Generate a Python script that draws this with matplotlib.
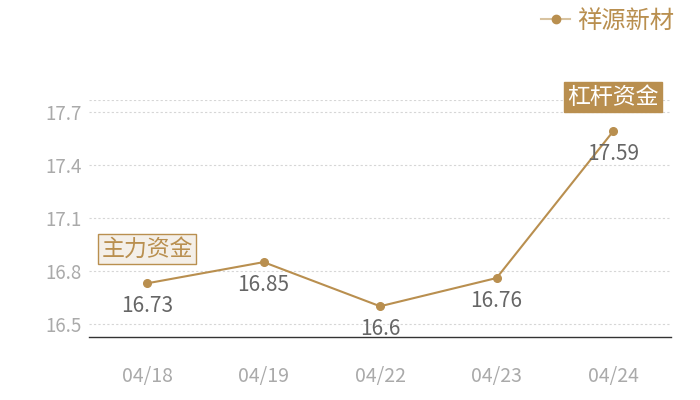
"""Line chart of daily values for 祥源新材 with two callout labels."""

import matplotlib

matplotlib.use("Agg")

import matplotlib.pyplot as plt
from matplotlib.lines import Line2D

plt.rcParams["font.family"] = ["Noto Sans CJK SC", "DejaVu Sans"]

dates = ["04/18", "04/19", "04/22", "04/23", "04/24"]
values = [16.73, 16.85, 16.6, 16.76, 17.59]
value_labels = ["16.73", "16.85", "16.6", "16.76", "17.59"]
series_name = "祥源新材"
y_ticks = [16.5, 16.8, 17.1, 17.4, 17.7]
callouts = [(0, "主力资金", "light"), (4, "杠杆资金", "dark")]

GOLD = "#b98f4f"
TICK_GRAY = "#aaaaaa"
LABEL_GRAY = "#666666"


def main() -> None:
    fig = plt.figure(figsize=(7, 4), dpi=100)
    ax = fig.add_axes([0.127, 0.1575, 0.832, 0.5925])

    x = list(range(len(dates)))
    ax.plot(x, values, color=GOLD, lw=1.5, marker="o", ms=5.5, zorder=3)

    for xi, v, lab in zip(x, values, value_labels, strict=True):
        ax.annotate(lab, (xi, v), xytext=(0, -16.5), textcoords="offset points",
                    ha="center", va="center", fontsize=15, color=LABEL_GRAY)

    for idx, text, style in callouts:
        if style == "dark":
            box = dict(boxstyle="square,pad=0.15", fc=GOLD, ec=GOLD, lw=1)
            tc = "white"
        else:
            box = dict(boxstyle="square,pad=0.15", fc="#f4efe8", ec=GOLD, lw=1)
            tc = GOLD
        ax.annotate(text, (idx, values[idx]), xytext=(0, 24.5), textcoords="offset points",
                    ha="center", va="center", fontsize=16.5, color=tc, bbox=box, zorder=4)

    ax.set_xlim(-0.5, len(dates) - 0.5)
    ax.set_ylim(16.426, 17.768)
    ax.set_xticks(x, dates)
    ax.set_yticks(y_ticks, [f"{t:g}" for t in y_ticks])
    ax.tick_params(axis="both", length=0, labelcolor=TICK_GRAY)
    ax.tick_params(axis="x", pad=21, labelsize=14)
    ax.tick_params(axis="y", pad=5, labelsize=13.5)

    for t in y_ticks + [17.768]:
        ax.axhline(t, color="#d6d6d6", lw=0.8, ls=(0, (2, 2)), zorder=1)

    for side in ("top", "right", "left"):
        ax.spines[side].set_visible(False)
    ax.spines["bottom"].set_color("#333333")
    ax.spines["bottom"].set_linewidth(1)

    handle = Line2D([], [], color="#d8c3a0", lw=1.5, marker="o", ms=6,
                    markerfacecolor=GOLD, markeredgecolor=GOLD)
    fig.legend([handle], [series_name], loc="upper right", bbox_to_anchor=(0.995, 1.035),
               frameon=False, fontsize=17.5, labelcolor=GOLD, handlelength=1.2,
               handletextpad=0.3)

    fig.savefig("out.png", dpi=100)


if __name__ == "__main__":
    main()
